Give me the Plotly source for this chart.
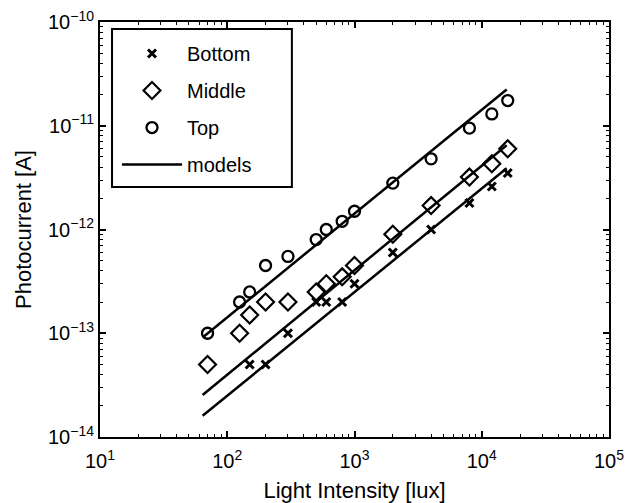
import plotly.graph_objects as go

# Data
x_top = [70, 125, 150, 200, 300, 500, 600, 800, 1000, 2000, 4000, 8000, 12000, 16000]
y_top = [1e-13, 2e-13, 2.5e-13, 4.5e-13, 5.5e-13, 8e-13, 1e-12, 1.2e-12, 1.5e-12,
         2.8e-12, 4.8e-12, 9.5e-12, 1.3e-11, 1.75e-11]

x_mid = [70, 125, 150, 200, 300, 500, 600, 800, 1000, 2000, 4000, 8000, 12000, 16000]
y_mid = [5e-14, 1e-13, 1.5e-13, 2e-13, 2e-13, 2.5e-13, 3e-13, 3.5e-13, 4.5e-13,
         9e-13, 1.7e-12, 3.2e-12, 4.3e-12, 6e-12]

x_bot = [150, 200, 300, 500, 600, 800, 1000, 2000, 4000, 8000, 12000, 16000]
y_bot = [5e-14, 5e-14, 1e-13, 2e-13, 2e-13, 2e-13, 3e-13, 6e-13, 1e-12, 1.8e-12, 2.6e-12, 3.5e-12]

model_x = [64, 15700]
model_top = [9.1e-14, 2.24e-11]
model_mid = [2.54e-14, 6.5e-12]
model_bot = [1.6e-14, 3.9e-12]

x_exponents = [1, 2, 3, 4, 5]
y_exponents = [-14, -13, -12, -11, -10]

FONT = "Liberation Sans, Arial, Helvetica, sans-serif"


def power_labels(exps):
    return ["10<sup>%s</sup>" % (str(e).replace("-", "\u2212")) for e in exps]


def minor_vals(exps):
    vals = []
    for e in exps[:-1]:
        for m in range(2, 10):
            vals.append(m * 10.0 ** e)
    return vals


fig = go.Figure()

fig.add_trace(go.Scatter(x=x_bot, y=y_bot, mode="markers", name="Bottom",
                         legendgroup="b",
                         marker=dict(symbol="x-thin-open", size=8, color="black",
                                     line=dict(width=3, color="black"))))
fig.add_trace(go.Scatter(x=x_mid, y=y_mid, mode="markers", name="Middle",
                         legendgroup="m",
                         marker=dict(symbol="diamond-open", size=13, color="black",
                                     line=dict(width=2.2, color="black"))))
fig.add_trace(go.Scatter(x=x_top, y=y_top, mode="markers", name="Top",
                         legendgroup="t",
                         marker=dict(symbol="circle-open", size=11, color="black",
                                     line=dict(width=2.3, color="black"))))
for i, ym in enumerate([model_bot, model_mid, model_top]):
    fig.add_trace(go.Scatter(x=model_x, y=ym, mode="lines", name="models",
                             legendgroup="models", showlegend=(i == 0),
                             line=dict(color="black", width=2.5)))

axis_common = dict(
    type="log", automargin=False,
    showline=True, linecolor="black", linewidth=2, mirror="ticks",
    ticks="inside", ticklen=6, tickwidth=1.5, tickcolor="black",
    showgrid=False, zeroline=False,
    tickmode="array",
    tickfont=dict(family=FONT, size=20, color="black"),
)

fig.update_xaxes(range=[x_exponents[0], x_exponents[-1]],
                 tickvals=[10.0 ** e for e in x_exponents],
                 ticktext=power_labels(x_exponents),
                 ticklabelstandoff=5,
                 minor=dict(ticks="inside", ticklen=3, tickwidth=1, tickcolor="black",
                            showgrid=False, tickmode="array",
                            tickvals=minor_vals(x_exponents)),
                 title=dict(text="Light Intensity [lux]",
                            font=dict(family=FONT, size=22, color="black"), standoff=12),
                 **axis_common)
fig.update_yaxes(range=[y_exponents[0], y_exponents[-1]],
                 tickvals=[10.0 ** e for e in y_exponents],
                 ticktext=power_labels(y_exponents),
                 minor=dict(ticks="inside", ticklen=3, tickwidth=1, tickcolor="black",
                            showgrid=False, tickmode="array",
                            tickvals=minor_vals(y_exponents)),
                 title=dict(text="Photocurrent [A]",
                            font=dict(family=FONT, size=22, color="black"), standoff=10),
                 **axis_common)

# legend frame (wider than plotly's own legend box, as in the reference)
fig.add_shape(type="rect", xref="paper", yref="paper",
              x0=0.0236, x1=0.377, y0=0.6024, y1=0.983,
              line=dict(color="black", width=2), fillcolor="white", layer="above")

fig.update_layout(
    width=639, height=503,
    margin=dict(l=100, r=30, t=22, b=66),
    paper_bgcolor="white", plot_bgcolor="white",
    font=dict(family=FONT, size=20, color="black"),
    legend=dict(x=0.0334, y=0.971, xanchor="left", yanchor="top",
                bgcolor="rgba(0,0,0,0)", borderwidth=0,
                font=dict(family=FONT, size=20, color="black"),
                tracegroupgap=8, traceorder="grouped",
                itemwidth=60),
)

fig.write_html("out.html",
               config={"displayModeBar": False},
               post_script="document.body.style.margin='0px';"
                           "document.body.style.overflow='hidden';")
